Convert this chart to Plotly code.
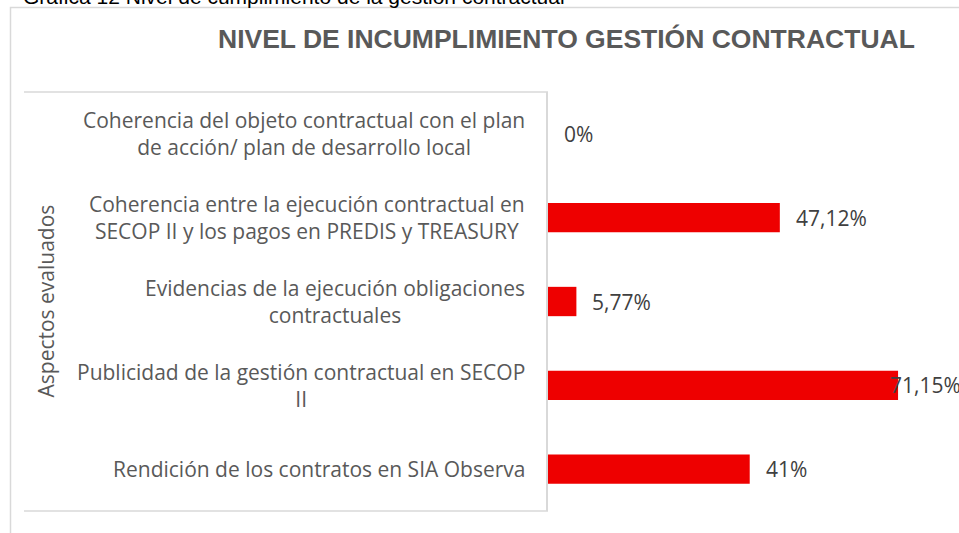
import plotly.graph_objects as go

# Aspects evaluated (top to bottom) and their non-compliance percentages
aspectos = [
    "Coherencia del objeto contractual con el plan<br>de acción/ plan de desarrollo local",
    "Coherencia entre la ejecución contractual en<br>SECOP II y los pagos en PREDIS y TREASURY",
    "Evidencias de la ejecución obligaciones<br>contractuales",
    "Publicidad de la gestión contractual en SECOP<br>II",
    "Rendición de los contratos en SIA Observa",
]
incumplimiento = [0, 47.12, 5.77, 71.15, 41]
etiquetas = ["0%", "47,12%", "5,77%", "71,15%", "41%"]

W, H = 959, 533
ML, MR, MT, MB = 548, 11, 92, 22
PW, PH = W - ML - MR, H - MT - MB
X_MAX = 81.3

GRAY_LINE = "#d9d9d9"
TEXT_GRAY = "#595959"
LABEL_FONT = "Open Sans"


def px_x(px):
    return (px - ML) / PW


def px_y(py):
    return (H - MB - py) / PH


cats = [f"c{i}" for i in range(len(aspectos))]

fig = go.Figure(
    go.Bar(
        x=incumplimiento,
        y=cats,
        orientation="h",
        marker=dict(color="#ee0000", line=dict(width=0)),
        width=0.35,
        hoverinfo="skip",
    )
)

annotations = []
# category labels, centred multi-line blocks right-aligned to the axis
for c, txt in zip(cats, aspectos):
    annotations.append(dict(
        x=px_x(527), xref="paper", y=c, yref="y",
        text=txt, showarrow=False, xanchor="right", yanchor="middle",
        align="center", font=dict(family=LABEL_FONT, size=21, color=TEXT_GRAY),
    ))

# value labels after each bar; pushed inside the frame when they would overflow
for c, v, lab in zip(cats, incumplimiento, etiquetas):
    end_px = ML + v / X_MAX * PW
    approx_w = len(lab) * 12
    if end_px + 16 + approx_w > W:
        annotations.append(dict(
            x=px_x(963), xref="paper", y=c, yref="y", text=lab,
            showarrow=False, xanchor="right", yanchor="middle",
            font=dict(family=LABEL_FONT, size=21, color="#404040"),
        ))
    else:
        annotations.append(dict(
            x=v, xref="x", y=c, yref="y", text=lab, xshift=14,
            showarrow=False, xanchor="left", yanchor="middle",
            font=dict(family=LABEL_FONT, size=21, color="#404040"),
        ))

# axis title
annotations.append(dict(
    x=px_x(45), xref="paper", y=0.5, yref="paper", text="Aspectos evaluados",
    textangle=-90, showarrow=False, xanchor="center", yanchor="middle",
    font=dict(family=LABEL_FONT, size=21, color=TEXT_GRAY),
))

# chart title
annotations.append(dict(
    x=px_x(566), xref="paper", y=px_y(39), yref="paper",
    text="<b>NIVEL DE INCUMPLIMIENTO GESTIÓN CONTRACTUAL</b>",
    showarrow=False, xanchor="center", yanchor="middle",
    font=dict(family="Liberation Sans", size=26.5, color=TEXT_GRAY),
))

# figure caption above the chart frame
annotations.append(dict(
    x=px_x(21), xref="paper", y=px_y(10), yref="paper",
    text="Gráfica 12 Nivel de cumplimiento de la gestión contractual",
    showarrow=False, xanchor="left", yanchor="bottom",
    font=dict(family="Liberation Sans", size=21, color="#000000"),
))

shapes = [
    # outer chart frame
    dict(type="rect", xref="paper", yref="paper",
         x0=px_x(10.5), x1=px_x(975), y0=px_y(545), y1=px_y(7.5),
         line=dict(color=GRAY_LINE, width=1.5), fillcolor="rgba(0,0,0,0)", layer="below"),
    # lines bounding the category label area
    dict(type="line", xref="paper", yref="paper",
         x0=px_x(24), x1=0, y0=1, y1=1, line=dict(color=GRAY_LINE, width=1.5)),
    dict(type="line", xref="paper", yref="paper",
         x0=px_x(24), x1=0, y0=0, y1=0, line=dict(color=GRAY_LINE, width=1.5)),
]

fig.update_layout(
    width=W, height=H,
    margin=dict(l=ML, r=MR, t=MT, b=MB, pad=0),
    paper_bgcolor="white", plot_bgcolor="white",
    showlegend=False,
    xaxis=dict(range=[0, X_MAX], visible=False, fixedrange=True),
    yaxis=dict(
        categoryorder="array", categoryarray=cats, range=[4.5, -0.5],
        showticklabels=False, ticks="", showgrid=False, zeroline=False,
        showline=True, linecolor=GRAY_LINE, linewidth=1.5, fixedrange=True,
    ),
    annotations=annotations,
    shapes=shapes,
)

fig.write_html("out.html")
